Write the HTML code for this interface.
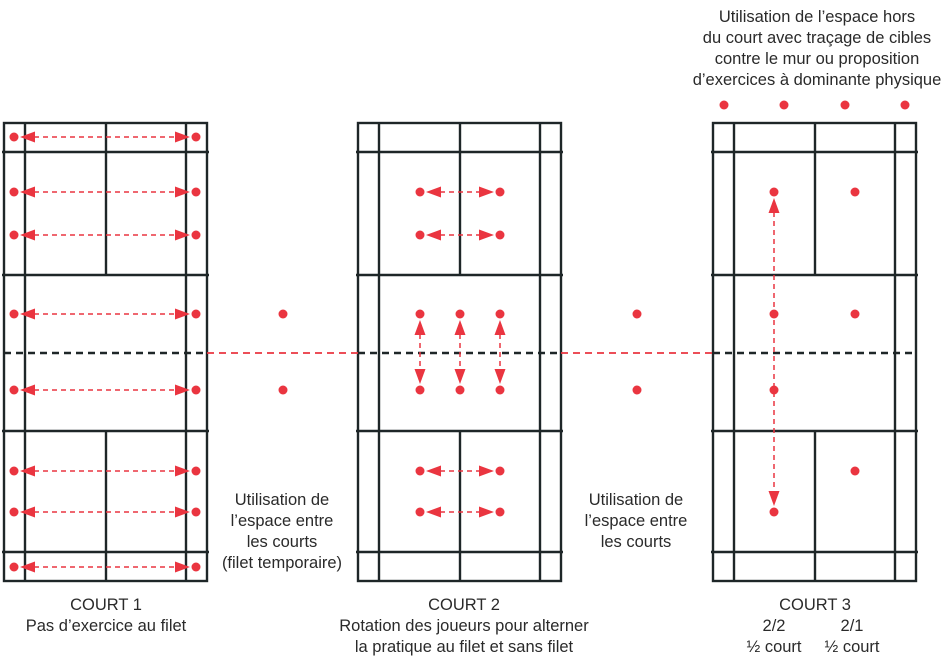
<!DOCTYPE html>
<html><head><meta charset="utf-8"><style>
html,body{margin:0;padding:0;background:#fff;}
svg{display:block;}
text{font-family:"Liberation Sans",sans-serif;font-size:16.5px;fill:#2a2a2a;text-anchor:middle;}
.c line,.c rect{stroke:#1e2628;stroke-width:2.4;fill:none;}
.d{fill:#ea3540;}
.a{stroke:#ea3540;stroke-width:1.5;stroke-dasharray:5 4;fill:none;}
</style></head><body>
<svg width="946" height="661" viewBox="0 0 946 661" xmlns="http://www.w3.org/2000/svg">
<defs>
<g id="court" class="c">
<rect x="0" y="123" width="203" height="458"/>
<line x1="21" y1="123" x2="21" y2="581"/>
<line x1="182" y1="123" x2="182" y2="581"/>
<line x1="102" y1="123" x2="102" y2="275"/>
<line x1="102" y1="431" x2="102" y2="581"/>
<line x1="-2" y1="152" x2="205" y2="152"/>
<line x1="-2" y1="275" x2="205" y2="275"/>
<line x1="-2" y1="431" x2="205" y2="431"/>
<line x1="-2" y1="552" x2="205" y2="552"/>
<line x1="0" y1="353" x2="203" y2="353" style="stroke-dasharray:7 5"/>
</g>
<g id="h1">
<circle class="d" cx="14" cy="0" r="4.5"/><circle class="d" cx="196" cy="0" r="4.5"/>
<polygon class="d" points="20,0 35,-5.5 35,5.5"/><polygon class="d" points="190,0 175,-5.5 175,5.5"/>
<line class="a" x1="34" y1="0" x2="176" y2="0"/>
</g>
<g id="h2">
<circle class="d" cx="420" cy="0" r="4.5"/><circle class="d" cx="500" cy="0" r="4.5"/>
<polygon class="d" points="426,0 441,-5.5 441,5.5"/><polygon class="d" points="494,0 479,-5.5 479,5.5"/>
<line class="a" x1="440" y1="0" x2="480" y2="0"/>
</g>
<g id="v2">
<circle class="d" cx="0" cy="314" r="4.5"/><circle class="d" cx="0" cy="390" r="4.5"/>
<polygon class="d" points="0,320 -5.5,335 5.5,335"/><polygon class="d" points="0,384 -5.5,369 5.5,369"/>
<line class="a" x1="0" y1="334" x2="0" y2="370"/>
</g>
</defs>

<use href="#court" x="4"/>
<use href="#court" x="358"/>
<use href="#court" x="713"/>

<line class="a" x1="207" y1="353" x2="358" y2="353" style="stroke-dasharray:7 5;stroke-width:1.8"/>
<line class="a" x1="561" y1="353" x2="713" y2="353" style="stroke-dasharray:7 5;stroke-width:1.8"/>

<use href="#h1" y="137"/><use href="#h1" y="192"/><use href="#h1" y="235"/><use href="#h1" y="314"/>
<use href="#h1" y="390"/><use href="#h1" y="471"/><use href="#h1" y="512"/><use href="#h1" y="567"/>

<use href="#h2" y="192"/><use href="#h2" y="235"/><use href="#h2" y="471"/><use href="#h2" y="512"/>
<use href="#v2" x="420"/><use href="#v2" x="460"/><use href="#v2" x="500"/>

<circle class="d" cx="283" cy="314" r="4.5"/><circle class="d" cx="283" cy="390" r="4.5"/>
<circle class="d" cx="637" cy="314" r="4.5"/><circle class="d" cx="637" cy="390" r="4.5"/>

<circle class="d" cx="724" cy="105" r="4.5"/><circle class="d" cx="784" cy="105" r="4.5"/>
<circle class="d" cx="845" cy="105" r="4.5"/><circle class="d" cx="905" cy="105" r="4.5"/>

<circle class="d" cx="774" cy="192" r="4.5"/><circle class="d" cx="855" cy="192" r="4.5"/>
<circle class="d" cx="774" cy="314" r="4.5"/><circle class="d" cx="855" cy="314" r="4.5"/>
<circle class="d" cx="774" cy="390" r="4.5"/><circle class="d" cx="855" cy="471" r="4.5"/>
<circle class="d" cx="774" cy="512" r="4.5"/>
<polygon class="d" points="774,198 768.5,213 779.5,213"/><polygon class="d" points="774,506 768.5,491 779.5,491"/>
<line class="a" x1="774" y1="212" x2="774" y2="492"/>

<text x="817" y="22">Utilisation de l’espace hors</text>
<text x="817" y="43">du court avec traçage de cibles</text>
<text x="817" y="64">contre le mur ou proposition</text>
<text x="817" y="85">d’exercices à dominante physique</text>

<text x="282" y="505">Utilisation de</text>
<text x="282" y="526">l’espace entre</text>
<text x="282" y="547">les courts</text>
<text x="282" y="568">(filet temporaire)</text>

<text x="636" y="505">Utilisation de</text>
<text x="636" y="526">l’espace entre</text>
<text x="636" y="547">les courts</text>

<text x="106" y="610">COURT 1</text>
<text x="106" y="631">Pas d’exercice au filet</text>

<text x="464" y="610">COURT 2</text>
<text x="464" y="631">Rotation des joueurs pour alterner</text>
<text x="464" y="652">la pratique au filet et sans filet</text>

<text x="815" y="610">COURT 3</text>
<text x="774" y="631">2/2</text>
<text x="852" y="631">2/1</text>
<text x="774" y="652">½ court</text>
<text x="852" y="652">½ court</text>
</svg>
</body></html>
